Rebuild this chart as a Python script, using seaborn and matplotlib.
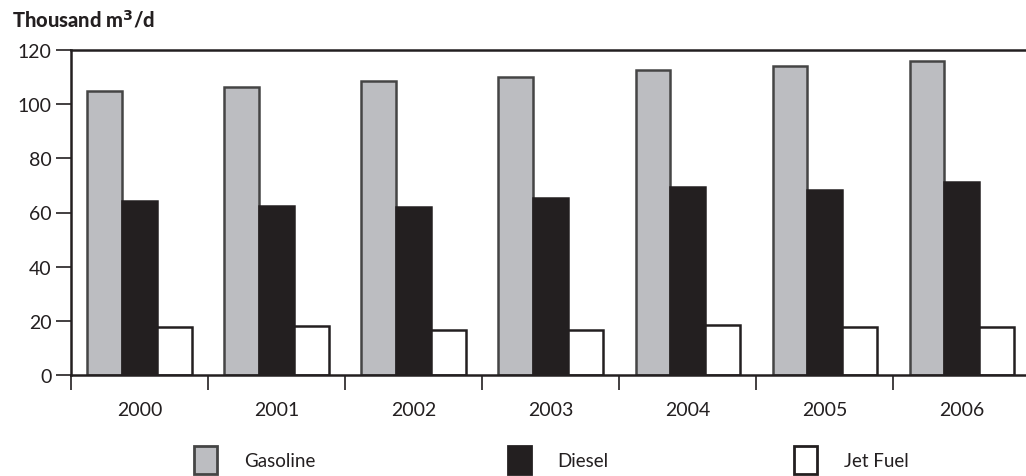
import matplotlib
matplotlib.use("Agg")
import matplotlib.pyplot as plt
import matplotlib.patches as mpatches
import seaborn as sns
import pandas as pd

years = ["2000", "2001", "2002", "2003", "2004", "2005", "2006"]
gasoline = [105.0, 106.5, 108.5, 110.0, 112.5, 114.0, 116.0]
diesel = [64.3, 62.4, 62.0, 65.4, 69.4, 68.3, 71.3]
jet_fuel = [17.7, 18.0, 16.6, 16.6, 18.5, 17.7, 17.7]
fuels = ["Gasoline", "Diesel", "Jet Fuel"]
y_ticks = [0, 20, 40, 60, 80, 100, 120]

df = pd.DataFrame({
    "year": years * 3,
    "fuel": [f for f in fuels for _ in years],
    "value": gasoline + diesel + jet_fuel,
})

sns.set_theme(style="white")
plt.rcParams["font.family"] = ["Lato", "DejaVu Sans"]

ink = "#231f20"
fills = {"Gasoline": "#bcbdc1", "Diesel": ink, "Jet Fuel": "#ffffff"}
edges = {"Gasoline": "#454545", "Diesel": ink, "Jet Fuel": ink}

W, H = 1026, 477
fig = plt.figure(figsize=(W / 100, H / 100), dpi=100)
ax = fig.add_axes([71 / W, 1 - 376 / H, 1 - 71 / W + 0.004, (376 - 51) / H])

sns.barplot(data=df, x="year", y="value", hue="fuel", hue_order=fuels,
            palette=fills, width=0.76, gap=0, dodge=True, ax=ax,
            legend=False, saturation=1, errorbar=None)

# outline each series in its own edge colour
for container, fuel in zip(ax.containers, fuels):
    for bar in container:
        bar.set_edgecolor(edges[fuel])
        bar.set_linewidth(1.8)

ax.set_ylim(0, 120)
ax.set_xlim(-0.5, 6.5)
ax.set_yticks(y_ticks)
ax.set_xlabel("")
ax.set_ylabel("")

for side in ["left", "top", "bottom"]:
    ax.spines[side].set_visible(True)
    ax.spines[side].set_color(ink)
    ax.spines[side].set_linewidth(1.8)
ax.spines["right"].set_visible(False)

# year labels centred, tick marks at the category boundaries
ax.set_xticks(range(len(years)))
ax.set_xticklabels(years)
ax.set_xticks([i - 0.5 for i in range(len(years) + 1)], minor=True)
ax.tick_params(axis="x", which="major", length=0, pad=19, labelsize=14, labelcolor=ink)
ax.tick_params(axis="x", which="minor", length=11, width=1.2, color=ink, direction="out", bottom=True)
ax.tick_params(axis="y", which="major", length=11, width=1.2, color=ink, direction="out",
               left=True, pad=3, labelsize=14, labelcolor=ink)

fig.text(12 / W, 1 - 27 / H, "Thousand m$^{\\mathbf{3}}$/d", fontsize=14.5, fontweight="black",
         color=ink, va="baseline", ha="left")

# one legend entry per fuel, spread along the bottom
legend_x = [194, 508, 794]
for fuel, x0 in zip(fuels, legend_x):
    handle = mpatches.Patch(facecolor=fills[fuel], edgecolor=edges[fuel], linewidth=2.0, label=fuel)
    fig.legend(handles=[handle], loc="center left", bbox_to_anchor=(x0 / W, 1 - 461 / H),
               frameon=False, fontsize=13.5, handlelength=1.25, handleheight=2.0,
               handletextpad=1.4, borderpad=0, borderaxespad=0, labelcolor=ink)

fig.savefig("out.png", dpi=100)
